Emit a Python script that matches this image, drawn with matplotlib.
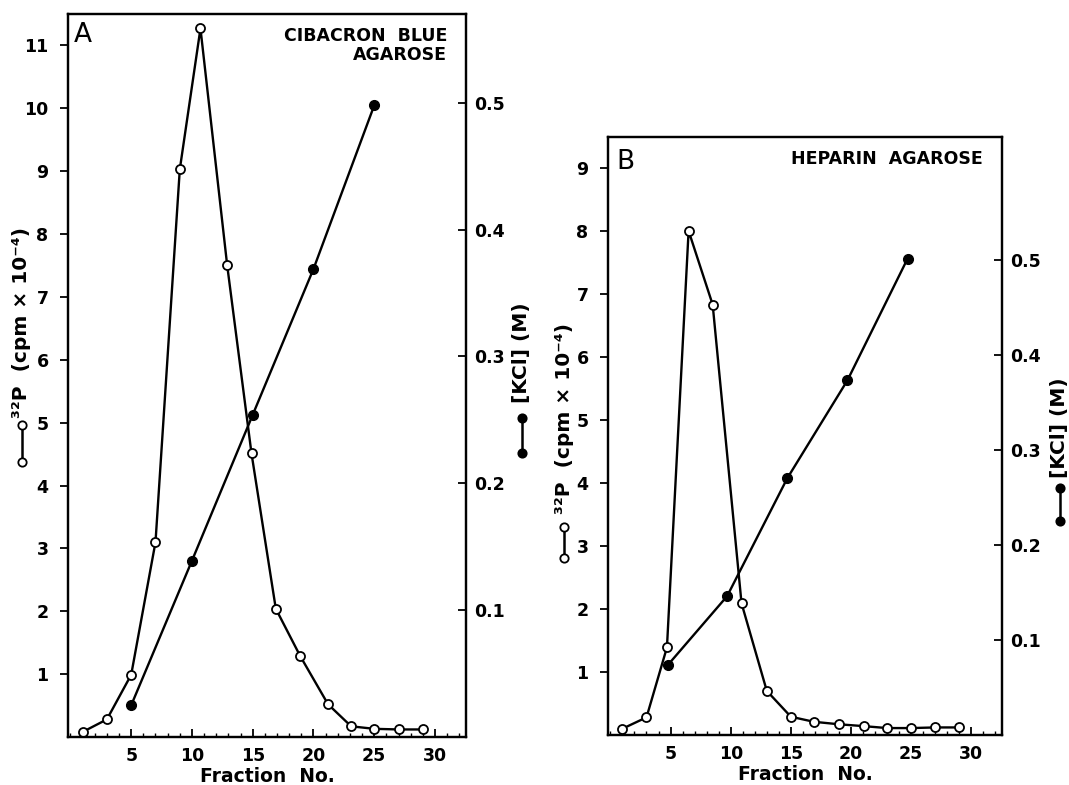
import matplotlib
matplotlib.use('Agg')
import matplotlib.pyplot as plt
from matplotlib.lines import Line2D
from matplotlib.ticker import MultipleLocator, FixedLocator

# panel A : cibacron blue agarose
frac_a = [1, 3, 5, 7, 9, 10.7, 12.9, 14.9, 16.9, 18.9, 21.2, 23.1, 25, 27, 29]
p32_a = [0.08, 0.28, 0.99, 3.1, 9.03, 11.27, 7.5, 4.51, 2.04, 1.29, 0.52, 0.17, 0.13, 0.12, 0.12]
kcl_frac_a = [5, 10, 15, 20, 25]
kcl_a = [0.025, 0.139, 0.254, 0.369, 0.498]

# panel B : heparin agarose
frac_b = [1, 3, 4.7, 6.5, 8.5, 10.9, 13, 15, 16.9, 19, 21.1, 23, 25, 27, 29]
p32_b = [0.1, 0.28, 1.39, 8.0, 6.83, 2.09, 0.70, 0.29, 0.21, 0.17, 0.14, 0.11, 0.11, 0.12, 0.12]
kcl_frac_b = [4.8, 9.7, 14.7, 19.7, 24.7]
kcl_b = [0.074, 0.146, 0.27, 0.373, 0.501]

x_ticks = [5, 10, 15, 20, 25, 30]
kcl_ticks = [0.1, 0.2, 0.3, 0.4, 0.5]

W, H = 1069, 785

def fx(px):
    return px / W

def fy(py):
    return 1 - py / H

plt.rcParams['font.family'] = ['DejaVu Sans']
plt.rcParams['font.weight'] = 'bold'

fig = plt.figure(figsize=(W / 100, H / 100), dpi=100)


def glyph(x, y1, y2, filled):
    # small legend key drawn next to the axis label
    fc = 'black' if filled else 'white'
    fig.add_artist(Line2D([fx(x), fx(x)], [fy(y1), fy(y2)], transform=fig.transFigure,
                          color='black', lw=1.8, marker='o', ms=6, mfc=fc, mec='black', mew=1.3))


def panel(box, frac, p32, kfrac, kcl, p_top, p_ticks, k_top):
    left, top, right, bottom = box
    ax = fig.add_axes([fx(left), fy(bottom), (right - left) / W, (bottom - top) / H])
    ax2 = ax.twinx()

    ax.plot(frac, p32, color='black', lw=1.7, marker='o', ms=6.5, mfc='white', mec='black', mew=1.3, zorder=3)
    ax2.plot(kfrac, kcl, color='black', lw=1.7, marker='o', ms=7, mfc='black', mec='black')

    ax.set_xlim(-0.2, 32.55)
    ax.set_ylim(0, p_top)
    ax2.set_ylim(0, k_top)

    ax.xaxis.set_major_locator(FixedLocator(x_ticks))
    ax.xaxis.set_minor_locator(MultipleLocator(1))
    ax.yaxis.set_major_locator(FixedLocator(p_ticks))
    ax2.yaxis.set_major_locator(FixedLocator(kcl_ticks))
    ax2.set_yticklabels([f'{v:.1f}' for v in kcl_ticks])

    ax.tick_params(axis='x', which='major', direction='in', length=6, width=1.3, labelsize=12.5, pad=7)
    ax.tick_params(axis='x', which='minor', direction='in', length=3, width=1)
    ax.tick_params(axis='y', direction='out', length=6, width=1.3, labelsize=12.5, pad=8)
    ax2.tick_params(axis='y', direction='in', length=6, width=1.3, labelsize=12.5, pad=6)

    for a in (ax, ax2):
        for s in a.spines.values():
            s.set_linewidth(1.6)
    return ax, ax2


panel((68, 14, 466, 737), frac_a, p32_a, kcl_frac_a, kcl_a, 11.5, list(range(1, 12)), 0.570)
panel((608, 137, 1002, 735), frac_b, p32_b, kcl_frac_b, kcl_b, 9.49, list(range(1, 10)), 0.629)

# panel letters and titles
fig.text(fx(74), fy(22), 'A', ha='left', va='top', fontsize=19, fontweight='normal')
fig.text(fx(447), fy(27), 'CIBACRON  BLUE\nAGAROSE', ha='right', va='top', multialignment='right',
         fontsize=12.5, linespacing=1.05)
fig.text(fx(616), fy(149), 'B', ha='left', va='top', fontsize=19, fontweight='normal')
fig.text(fx(983), fy(150), 'HEPARIN  AGAROSE', ha='right', va='top', fontsize=12.5)

# x labels
fig.text(fx(267), fy(777), 'Fraction  No.', ha='center', va='center', fontsize=13.5)
fig.text(fx(805), fy(775), 'Fraction  No.', ha='center', va='center', fontsize=13.5)

# y labels with their keys
p_label = '³²P  (cpm × 10⁻⁴)'
k_label = '[KCl] (M)'
fig.text(fx(22), fy(418), p_label, rotation=90, ha='center', va='bottom', fontsize=14.5)
glyph(22, 425, 462, False)
fig.text(fx(522), fy(403), k_label, rotation=90, ha='center', va='bottom', fontsize=14.5)
glyph(522, 418, 453, True)

fig.text(fx(564), fy(514), p_label, rotation=90, ha='center', va='bottom', fontsize=14.5)
glyph(564, 527, 558, False)
fig.text(fx(1060), fy(478), k_label, rotation=90, ha='center', va='bottom', fontsize=14.5)
glyph(1060, 488, 521, True)

fig.savefig('out.png', dpi=100, facecolor='white')
